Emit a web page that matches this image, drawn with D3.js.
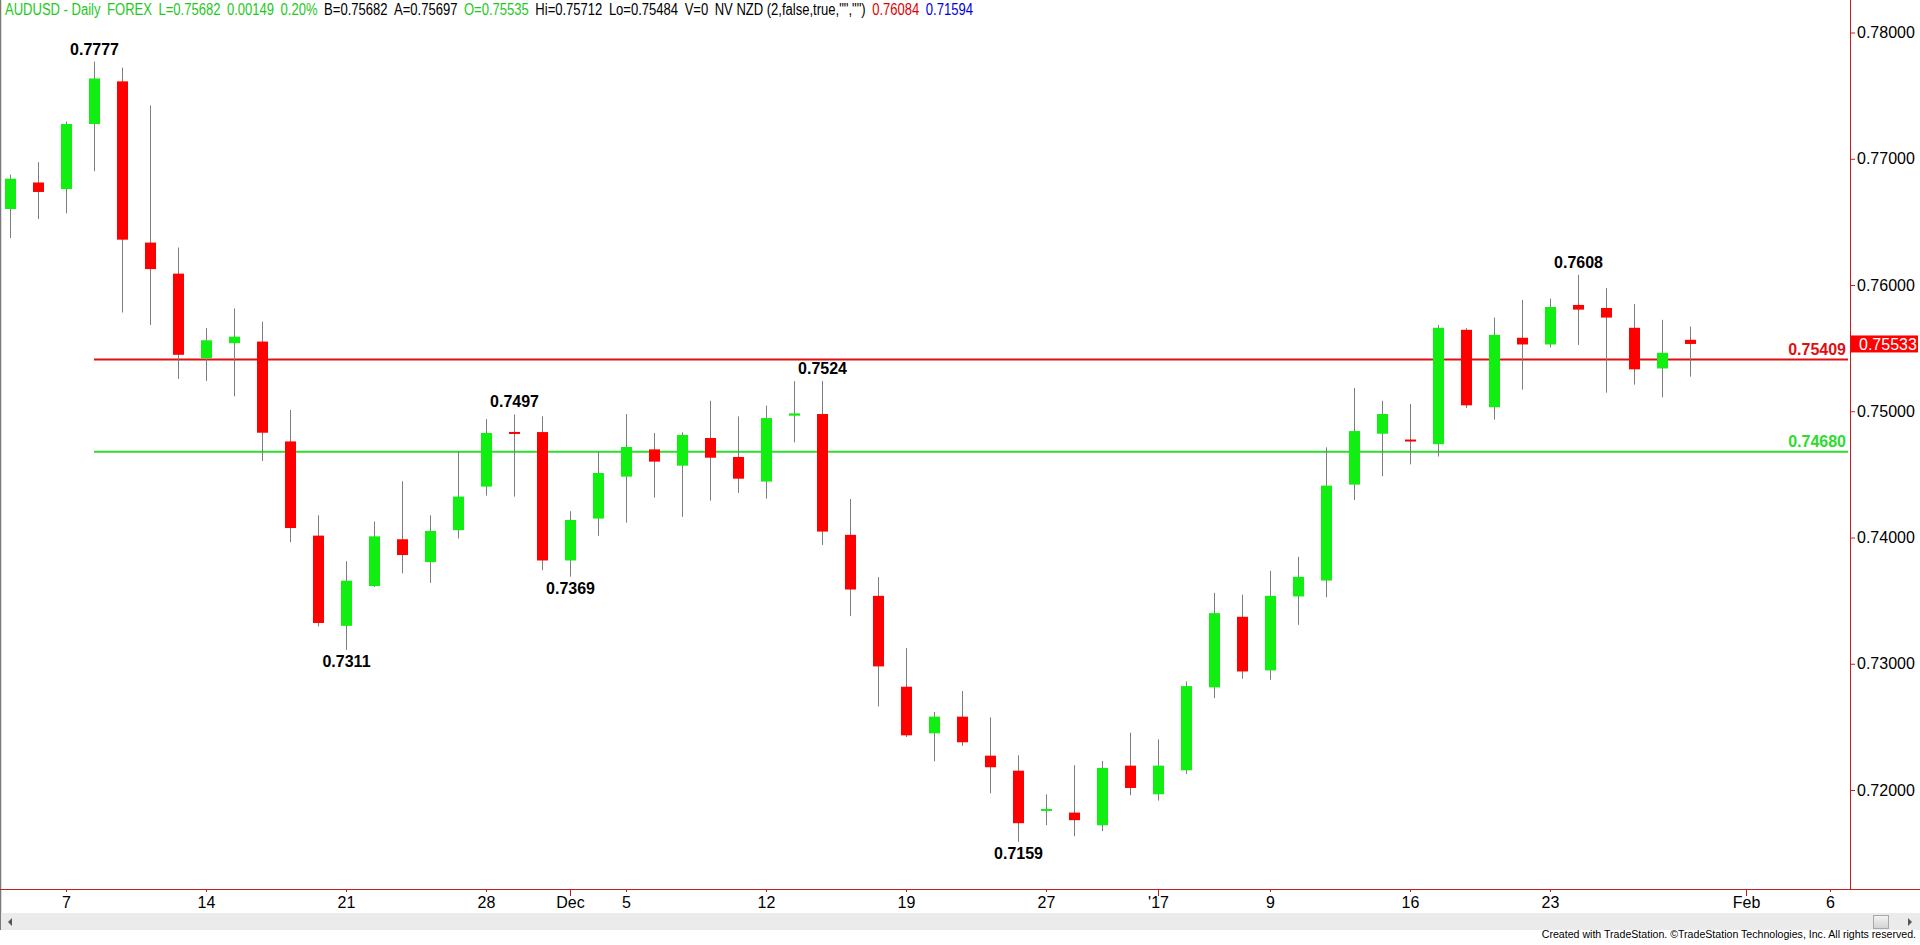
<!DOCTYPE html>
<html><head><meta charset="utf-8">
<script src="https://cdn.jsdelivr.net/npm/d3@7"></script>
<style>
html,body{margin:0;padding:0;background:#fff;overflow:hidden}
svg{display:block;font-family:"Liberation Sans",Arial,sans-serif}
</style></head><body>
<svg id="c" width="1920" height="945"></svg>
<script>
// ---------------- DATA ----------------
const dates = [
 "2016-11-03","2016-11-04","2016-11-07","2016-11-08","2016-11-09","2016-11-10","2016-11-11",
 "2016-11-14","2016-11-15","2016-11-16","2016-11-17","2016-11-18","2016-11-21","2016-11-22",
 "2016-11-23","2016-11-24","2016-11-25","2016-11-28","2016-11-29","2016-11-30","2016-12-01",
 "2016-12-02","2016-12-05","2016-12-06","2016-12-07","2016-12-08","2016-12-09","2016-12-12",
 "2016-12-13","2016-12-14","2016-12-15","2016-12-16","2016-12-19","2016-12-20","2016-12-21",
 "2016-12-22","2016-12-23","2016-12-27","2016-12-28","2016-12-29","2016-12-30","2017-01-03",
 "2017-01-04","2017-01-05","2017-01-06","2017-01-09","2017-01-10","2017-01-11","2017-01-12",
 "2017-01-13","2017-01-16","2017-01-17","2017-01-18","2017-01-19","2017-01-20","2017-01-23",
 "2017-01-24","2017-01-25","2017-01-26","2017-01-27","2017-01-30","2017-01-31","2017-02-01",
 "2017-02-02","2017-02-03","2017-02-06"
];
const open = [
 0.76602,0.76812,0.76760,0.77275,0.77613,0.76336,0.76090,0.75420,0.75539,0.75552,0.74761,0.74015,
 0.73300,0.73615,0.73986,0.73805,0.74058,0.74403,0.74836,0.74835,0.73818,0.74150,0.74482,0.74698,
 0.74569,0.74788,0.74638,0.74443,0.74965,0.74978,0.74021,0.73538,0.72818,0.72449,0.72581,0.72272,
 0.72153,0.71845,0.71821,0.71721,0.72193,0.71966,0.72156,0.72813,0.73372,0.72947,0.73533,0.73659,
 0.74419,0.74822,0.74776,0.74739,0.75645,0.75032,0.75582,0.75529,0.75842,0.75818,0.75661,0.75339,
 0.75566
];
const high = [
 0.76875,0.76973,0.77295,0.77770,0.77722,0.77423,0.76297,0.75660,0.75814,0.75709,0.75010,0.74176,
 0.73812,0.74127,0.74445,0.74176,0.74682,0.74938,0.74975,0.74960,0.74208,0.74680,0.74978,0.74828,
 0.74833,0.75083,0.74959,0.75044,0.75238,0.75240,0.74305,0.73686,0.73124,0.72618,0.72784,0.72575,
 0.72275,0.71966,0.72196,0.72230,0.72454,0.72401,0.72860,0.73562,0.73546,0.73736,0.73847,0.74714,
 0.75184,0.75083,0.75058,0.75684,0.75658,0.75742,0.75882,0.75892,0.76080,0.75976,0.75850,0.75724,
 0.75671
];
const low = [
 0.76372,0.76523,0.76569,0.76901,0.75782,0.75683,0.75256,0.75240,0.75118,0.74606,0.73963,0.73296,
 0.73110,0.73608,0.73717,0.73641,0.73992,0.74332,0.74324,0.73741,0.73690,0.74013,0.74118,0.74316,
 0.74163,0.74292,0.74353,0.74308,0.74754,0.73941,0.73377,0.72662,0.72420,0.72227,0.72349,0.71974,
 0.71590,0.71721,0.71634,0.71674,0.71958,0.71916,0.72127,0.72728,0.72881,0.72873,0.73309,0.73527,
 0.74297,0.74485,0.74579,0.74642,0.75026,0.74934,0.75171,0.75505,0.75526,0.75147,0.75211,0.75111,
 0.75274
];
const close = [
 0.76842,0.76737,0.77275,0.77636,0.76359,0.76126,0.75447,0.75562,0.75591,0.74830,0.74075,0.73323,
 0.73658,0.74009,0.73861,0.74052,0.74324,0.74828,0.74830,0.73818,0.74139,0.74511,0.74717,0.74601,
 0.74812,0.74632,0.74466,0.74946,0.74983,0.74047,0.73588,0.72979,0.72433,0.72581,0.72378,0.72180,
 0.71737,0.71850,0.71761,0.72175,0.72016,0.72193,0.72823,0.73401,0.72939,0.73538,0.73688,0.74411,
 0.74843,0.74978,0.74766,0.75661,0.75047,0.75605,0.75529,0.75826,0.75805,0.75742,0.75332,0.75463,
 0.75533
];
const tickDates  = ["2016-11-07","2016-11-14","2016-11-21","2016-11-28","2016-12-01","2016-12-05",
 "2016-12-12","2016-12-19","2016-12-27","2017-01-03","2017-01-09","2017-01-16","2017-01-23",
 "2017-02-01","2017-02-06"];
const tickLabels = ["7","14","21","28","Dec","5","12","19","27","'17","9","16","23","Feb","6"];
const monthTickDates = ["2016-12-01","2017-01-03","2017-02-01"];
const yTicks = [0.72,0.73,0.74,0.75,0.76,0.77,0.78];
const levelValues = [0.75409, 0.74680];
const levelStartDate = "2016-11-08";
const swingDates  = ["2016-11-08","2016-11-21","2016-11-29","2016-12-01","2016-12-14","2016-12-23","2017-01-24"];
const swingLabels = ["0.7777","0.7311","0.7497","0.7369","0.7524","0.7159","0.7608"];
const swingKinds  = ["high","low","high","low","high","low","high"];
const lastPrice = 0.75533;
const headerTexts = ["AUDUSD - Daily","FOREX","L=0.75682","0.00149","0.20%","B=0.75682","A=0.75697",
 "O=0.75535","Hi=0.75712","Lo=0.75484","V=0","NV NZD (2,false,true,\"\",\"\")","0.76084","0.71594"];
const footerText = "Created with TradeStation. \u00A9TradeStation Technologies, Inc. All rights reserved.";

// ---------------- DRAW ----------------
const svg = d3.select("#c");
const W = 1920, H = 945;
const axisX = 1850, axisY = 889;
const GREEN = "#11ee11", RED = "#ff0000", AXIS = "#c41e1e";

const x = d3.scalePoint().domain(dates).range([10, 1830]);
const y = d3.scaleLinear().domain([0.72, 0.78]).range([790, 32.5]);

const candles = open.map((o,i)=>({d:dates[i],o,h:high[i],l:low[i],c:close[i]}));

// left border
svg.append("line").attr("x1",0.5).attr("x2",0.5).attr("y1",0).attr("y2",930)
  .attr("stroke","#7a7a7a").attr("stroke-width",1.5);

// horizontal levels
const levelColors = ["#e01010","#2ddc2d"];
const lvl = svg.append("g");
levelValues.forEach((v,i)=>{
  lvl.append("line").attr("x1",x(levelStartDate)).attr("x2",1848)
    .attr("y1",y(v)).attr("y2",y(v)).attr("stroke",levelColors[i]).attr("stroke-width",2);
  lvl.append("text").attr("x",1846).attr("y",y(v)-5).attr("text-anchor","end")
    .attr("font-weight","bold").attr("font-size",16).attr("fill",levelColors[i])
    .text(d3.format(".5f")(v));
});

// candles
const cg = svg.append("g");
cg.selectAll("line.wick").data(candles).join("line").attr("class","wick")
  .attr("x1",d=>x(d.d)+0.5).attr("x2",d=>x(d.d)+0.5)
  .attr("y1",d=>y(d.h)).attr("y2",d=>y(d.l))
  .attr("stroke","#7d7d7d").attr("stroke-width",1);
cg.selectAll("rect.body").data(candles).join("rect").attr("class","body")
  .attr("x",d=>x(d.d)-5).attr("width",11)
  .attr("y",d=>Math.min(y(d.o),y(d.c)))
  .attr("height",d=>Math.max(2,Math.abs(y(d.o)-y(d.c))))
  .attr("fill",d=>d.c>=d.o?GREEN:RED);

// swing labels
const byDate = new Map(candles.map(d=>[d.d,d]));
swingDates.forEach((d,i)=>{
  const c = byDate.get(d);
  const ty = swingKinds[i]==="high" ? y(c.h)-7 : y(c.l)+17;
  svg.append("text").attr("x",x(d)+0.5).attr("y",ty).attr("text-anchor","middle")
    .attr("font-weight","bold").attr("font-size",16).attr("fill","#000").text(swingLabels[i]);
});

// right axis
svg.append("line").attr("x1",axisX+0.5).attr("x2",axisX+0.5).attr("y1",0).attr("y2",axisY)
  .attr("stroke",AXIS).attr("stroke-width",1);
const ya = svg.append("g").attr("transform",`translate(${axisX},0)`)
  .call(d3.axisRight(y).tickValues(yTicks).tickFormat(d3.format(".5f")).tickSize(5).tickPadding(2));
ya.select(".domain").remove();
ya.selectAll(".tick line").attr("stroke",AXIS);
ya.selectAll(".tick text").attr("font-size",16).attr("fill","#000")
  .attr("font-family","'Liberation Sans',Arial,sans-serif");

// last price box
svg.append("rect").attr("x",axisX+1).attr("y",y(lastPrice)-8.5).attr("width",67).attr("height",17)
  .attr("fill","#ff0000");
svg.append("text").attr("x",axisX+9).attr("y",y(lastPrice)+6).attr("font-size",16)
  .attr("fill","#fff").text(d3.format(".5f")(lastPrice));

// bottom axis
svg.append("line").attr("x1",0).attr("x2",W).attr("y1",axisY+0.5).attr("y2",axisY+0.5)
  .attr("stroke",AXIS).attr("stroke-width",1);
const xa = svg.append("g").attr("transform",`translate(0,${axisY})`)
  .call(d3.axisBottom(x).tickValues(tickDates).tickFormat((d,i)=>tickLabels[i]).tickSize(3).tickPadding(5));
xa.select(".domain").remove();
xa.selectAll(".tick line").attr("stroke",AXIS)
  .attr("y2",d=>monthTickDates.includes(d)?7:3);
xa.selectAll(".tick text").attr("font-size",16).attr("fill","#000")
  .attr("font-family","'Liberation Sans',Arial,sans-serif");

// scrollbar
svg.append("rect").attr("x",1).attr("y",913).attr("width",W-1).attr("height",17).attr("fill","#ebebeb");
svg.append("path").attr("d","M12,918 L12,926 L8,922 Z").attr("fill","#555");
svg.append("path").attr("d","M1908,918 L1908,926 L1912,922 Z").attr("fill","#555");
const thumbGrad = svg.append("defs").append("linearGradient").attr("id","tg").attr("x1",0).attr("x2",0).attr("y1",0).attr("y2",1);
thumbGrad.append("stop").attr("offset",0).attr("stop-color","#f4f4f4");
thumbGrad.append("stop").attr("offset",1).attr("stop-color","#d2d2d2");
svg.append("rect").attr("x",1873.5).attr("y",915.5).attr("width",15).attr("height",13)
  .attr("fill","url(#tg)").attr("stroke","#a8a8a8");

// footer (horizontally condensed via group scale)
const fg = svg.append("g");
const ft = fg.append("text").attr("x",0).attr("y",0).attr("text-anchor","end").attr("font-size",11.5)
  .attr("fill","#000").text(footerText);
const fw = ft.node().getComputedTextLength();
fg.attr("transform",`translate(1916,938) scale(${375/fw},1)`);

// header
const headerColors = ["#1ec81e","#1ec81e","#1ec81e","#1ec81e","#1ec81e","#000","#000",
  "#1ec81e","#000","#000","#000","#000","#e00000","#0000e0"];
const hg = svg.append("g");
let cx = 0;
headerTexts.forEach((t,i)=>{
  const el = hg.append("text").attr("x",cx).attr("y",15).attr("font-size",16)
    .attr("fill",headerColors[i]).text(t);
  cx += el.node().getComputedTextLength() + 8;
});
const natural = cx - 8;
hg.attr("transform",`translate(5,0) scale(${968/natural},1)`);
</script>
</body></html>
